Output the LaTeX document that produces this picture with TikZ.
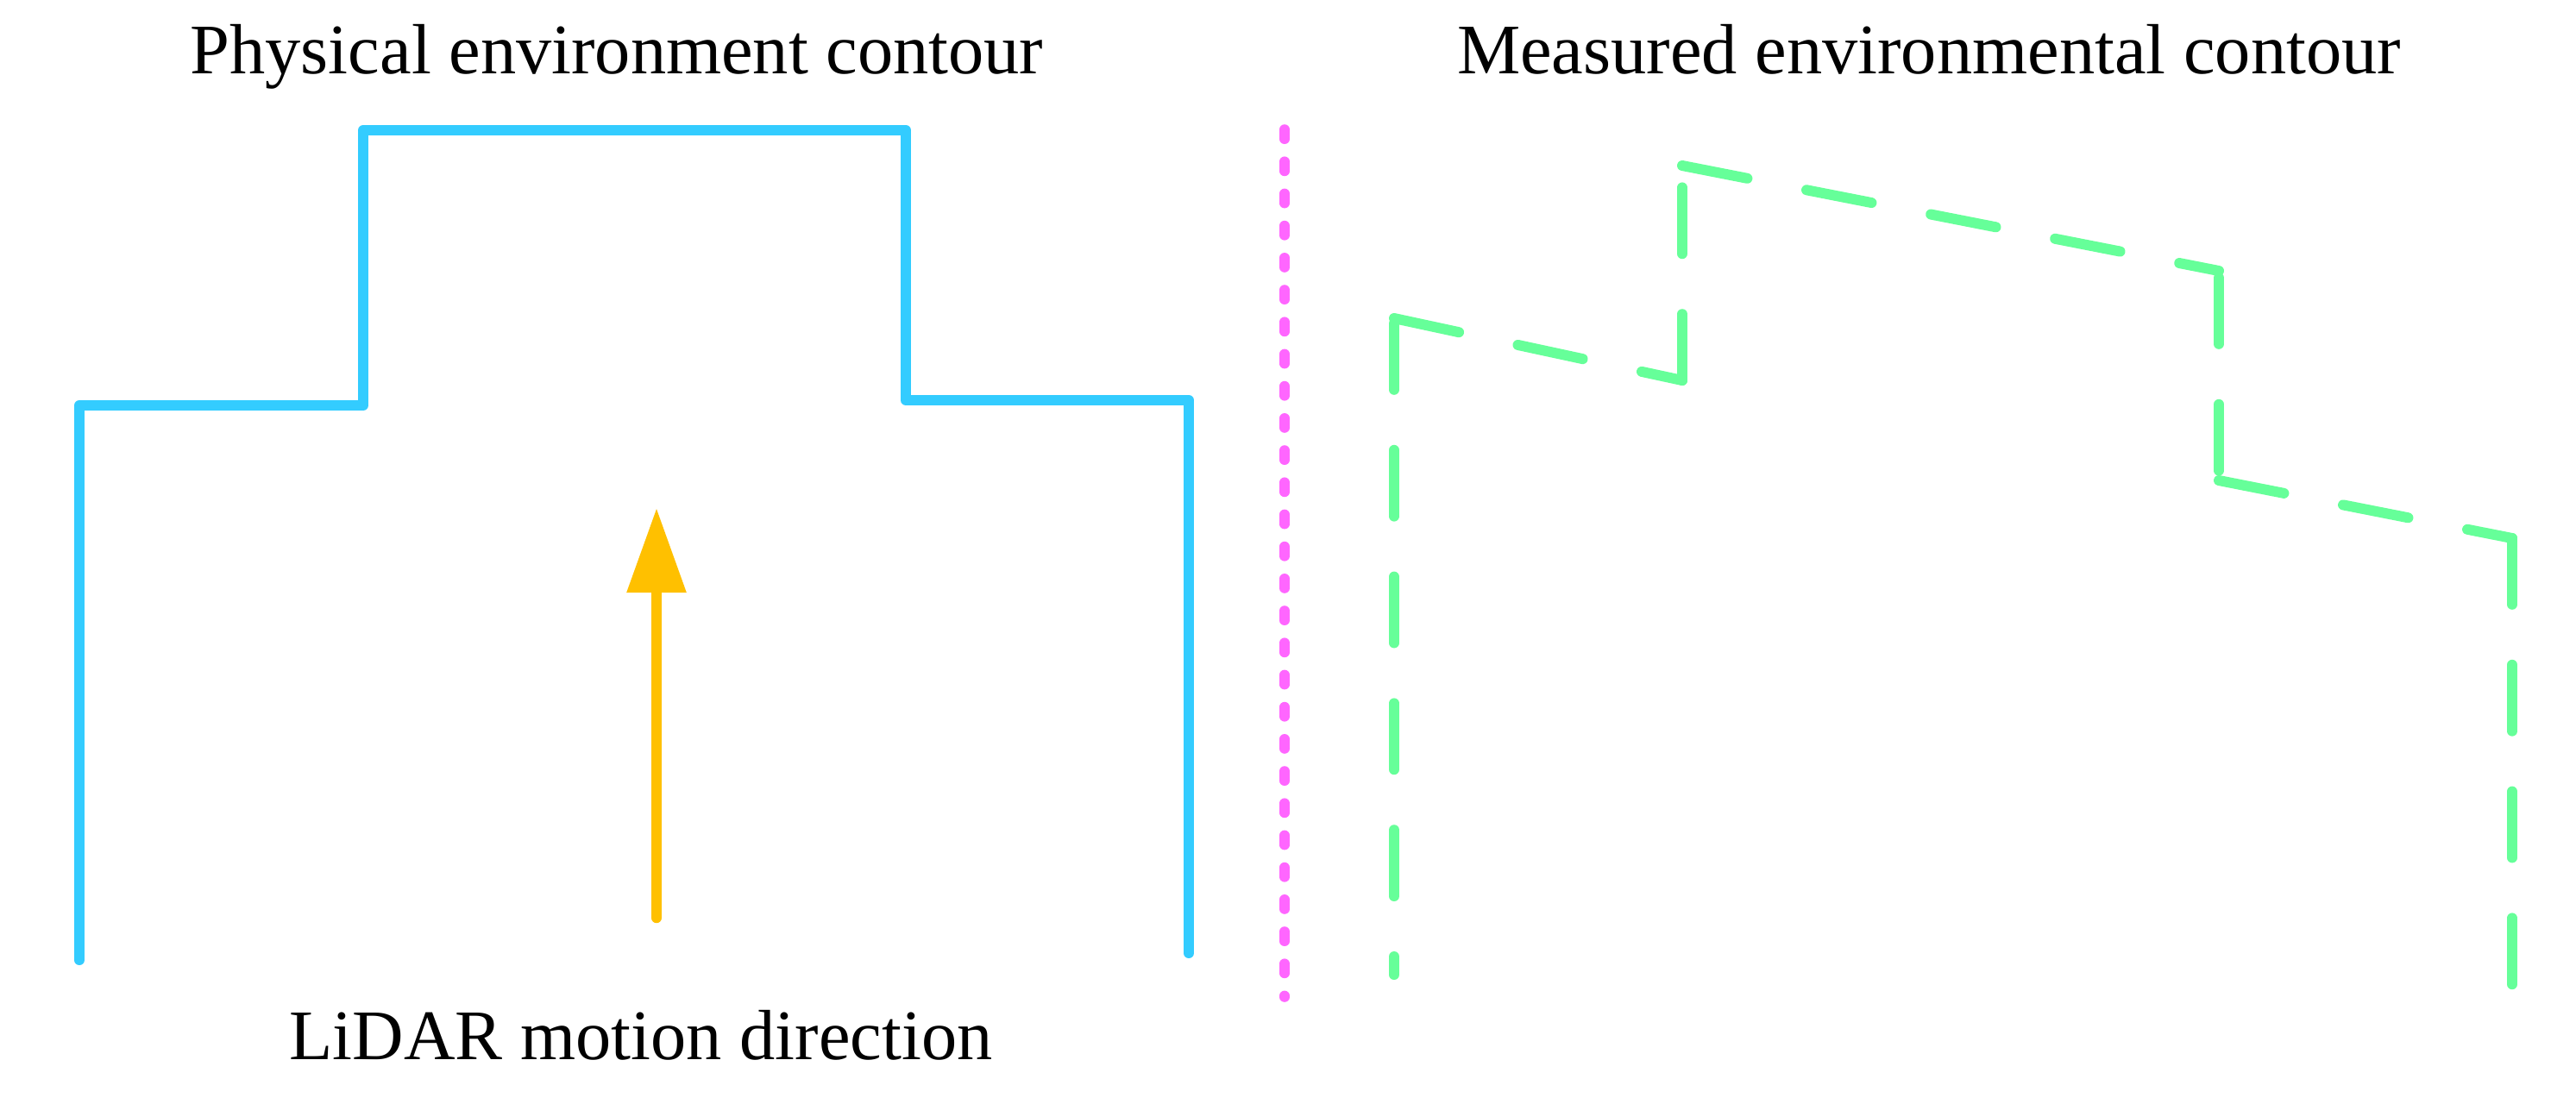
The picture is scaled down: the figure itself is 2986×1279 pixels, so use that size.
\documentclass[tikz,border=0pt]{standalone}
\usepackage{fontspec}
\setmainfont{Liberation Serif}
\usetikzlibrary{arrows.meta}
\definecolor{physblue}{HTML}{33CCFF}
\definecolor{measgreen}{HTML}{66FF99}
\definecolor{divpink}{HTML}{FF66FF}
\definecolor{motionorange}{HTML}{FFC000}
\tikzset{
  physline/.style={draw=physblue, line width=3pt, line cap=round, line join=round},
  measline/.style={draw=measgreen, line width=3pt, line cap=round, line join=round, dash pattern=on 19.2pt off 17.5pt},
  divline/.style={draw=divpink, line width=2.9pt, line cap=round, dash pattern=on 2.8pt off 6.5pt},
  motionarrow/.style={draw=motionorange, line width=3.1pt, line cap=round, -{Triangle[length=24.5pt,width=16.5pt,fill=motionorange]}},
  titletext/.style={anchor=base, inner sep=0pt, font=\fontsize{20.6pt}{24pt}\selectfont},
}
\begin{document}
\begin{tikzpicture}[x=0.25pt,y=-0.25pt]
\useasboundingbox[fill=white] (0,0) rectangle (2986,1279);
% titles
\node[titletext] (tphys) at (715,85) {Physical environment contour};
\node[titletext] (tmeas) at (2236,85) {Measured environmental contour};
\node[titletext] (tlidar) at (743,1228) {LiDAR motion direction};
% physical contour
\draw[physline] (92,1113) -- (92,470) -- (421,470) -- (421,151) -- (1050,151) -- (1050,464) -- (1378,464) -- (1378,1105);
% motion arrow
\coordinate (atail) at (761,1064);
\coordinate (atip) at (761,589);
\draw[motionarrow] (atail) -- (atip);
% divider
\draw[divline] (1489,150) -- (1489,1156);
% measured contour, drawn segment by segment
\draw[measline] (1616,375) -- (1616,1130);
\draw[measline] (1616,369) -- (1950,441);
\draw[measline] (1950,441) -- (1950,196);
\draw[measline] (1950,192) -- (2572,314);
\draw[measline] (2572,322) -- (2572,557);
\draw[measline] (2572,557) -- (2912,624);
\draw[measline] (2912,624) -- (2912,1150);
\end{tikzpicture}
\end{document}
